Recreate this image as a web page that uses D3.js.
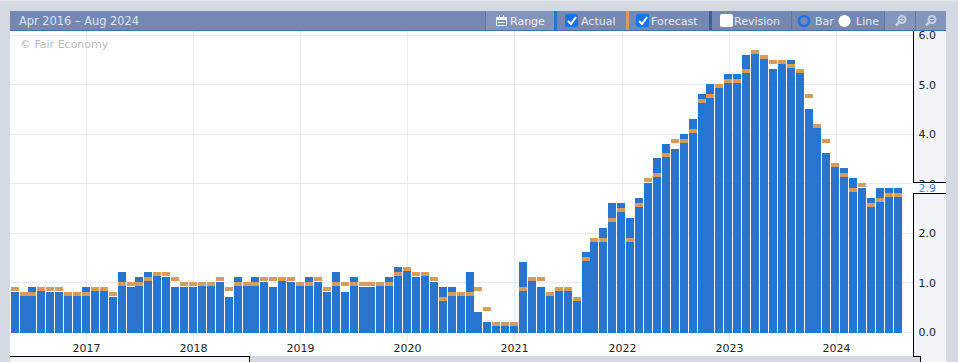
<!DOCTYPE html>
<html>
<head>
<meta charset="utf-8">
<style>
  html, body { margin: 0; padding: 0; background: #d5d9e2; overflow: hidden; }
  svg { display: block; font-family: "DejaVu Sans", sans-serif; }
</style>
</head>
<body>
<div id="chart"></div>
<script src="https://cdn.jsdelivr.net/npm/d3@7"></script>
<script>
// Monthly bars, May 2016 to Aug 2024
const firstMonth = new Date(2016, 4, 1);
const lastMonth  = new Date(2024, 7, 1);
const months = d3.timeMonth.range(firstMonth, d3.timeMonth.offset(lastMonth, 1));

const actual = [
  0.8, 0.8, 0.9, 0.9, 0.8, 0.8, 0.8, 0.8, 0.9, 0.9, 0.9, 0.7, 1.2, 0.9, 1.1, 1.2, 1.2, 1.1, 0.9, 0.9,
  0.9, 1.0, 1.0, 1.0, 0.7, 1.1, 1.0, 1.1, 1.0, 0.9, 1.1, 1.0, 1.0, 1.1, 1.0, 0.8, 1.2, 0.8, 1.1, 0.9,
  0.9, 1.0, 1.1, 1.3, 1.3, 1.1, 1.2, 1.0, 0.9, 0.9, 0.8, 1.2, 0.4, 0.2, 0.2, 0.2, 0.2, 1.4, 1.1, 0.9,
  0.8, 0.9, 0.9, 0.7, 1.6, 1.9, 2.1, 2.6, 2.6, 2.3, 2.7, 3.0, 3.5, 3.8, 3.7, 4.0, 4.3, 4.8, 5.0, 5.0,
  5.2, 5.2, 5.6, 5.7, 5.6, 5.3, 5.4, 5.5, 5.3, 4.5, 4.2, 3.6, 3.4, 3.3, 3.1, 2.9, 2.7, 2.9, 2.9, 2.9
];
const forecast = [
  0.9, 0.8, 0.8, 0.9, 0.9, 0.9, 0.8, 0.8, 0.8, 0.9, 0.9, 0.8, 1.0, 1.0, 1.0, 1.1, 1.2, 1.2, 1.1, 1.0,
  1.0, 1.0, 1.0, 1.1, 0.9, 1.0, 1.0, 1.0, 1.1, 1.1, 1.1, 1.1, 1.0, 1.0, 1.1, 0.9, 1.0, 1.0, 1.0, 1.0,
  1.0, 1.0, 1.0, 1.2, 1.3, 1.2, 1.2, 1.1, 0.7, 0.8, 0.8, 0.8, 0.9, 0.5, 0.2, 0.2, 0.2, 0.9, 1.1, 1.1,
  0.8, 0.9, 0.9, 0.7, 1.5, 1.9, 1.9, 2.3, 2.5, 1.9, 2.6, 3.1, 3.2, 3.6, 3.9, 3.9, 4.1, 4.7, 4.8, 5.0,
  5.1, 5.1, 5.3, 5.7, 5.6, 5.5, 5.5, 5.4, 5.3, 4.8, 4.2, 3.9, 3.4, 3.2, 2.9, 3.0, 2.6, 2.7, 2.8, 2.8
];
const yTicks = [0, 1, 2, 3, 4, 5, 6];
const yearTicks = [2017, 2018, 2019, 2020, 2021, 2022, 2023, 2024];
const rangeTitle = "Apr 2016 – Aug 2024";

const COLORS = { actual: "#2875d0", forecast: "#d59c5f", grid: "#e8e8f1", head: "#7389b4", page: "#d5d9e2", panel: "#f3f4f9" };

const W = 958, H = 362;
// plot box, the axis panel sits to the right of it
const plot = { left: 10, right: 913, top: 31, bottom: 356 };

const svg = d3.select("#chart").append("svg").attr("width", W).attr("height", H);

svg.append("rect").attr("width", W).attr("height", H).attr("fill", COLORS.page);
svg.append("rect").attr("width", W).attr("height", 1).attr("fill", "#e6e8ed");
svg.append("rect").attr("x", plot.left).attr("y", plot.top)
  .attr("width", plot.right - plot.left).attr("height", plot.bottom - plot.top).attr("fill", "#fff");
svg.append("rect").attr("x", plot.right).attr("y", plot.top)
  .attr("width", 33).attr("height", plot.bottom - plot.top).attr("fill", COLORS.panel);

// Scales
const x = d3.scaleBand().domain(months).range([10.6, 901.8]).paddingInner(0.1).paddingOuter(0);
const y = d3.scaleLinear().domain([0, 6]).range([332, 35.3]);
const barW = 8, markH = 4;
const barX = d => Math.round(x(d));
const yearX = yr => Math.round(x(new Date(yr, 0, 1)) + x.bandwidth() / 2 + 0.3) + 0.5;

// Gridlines
svg.append("g").selectAll("line").data(yTicks).join("line")
  .attr("x1", plot.left).attr("x2", plot.right)
  .attr("y1", d => Math.floor(y(d)) + 0.5).attr("y2", d => Math.floor(y(d)) + 0.5)
  .attr("stroke", COLORS.grid);
svg.append("g").selectAll("line").data(yearTicks).join("line")
  .attr("x1", yearX).attr("x2", yearX)
  .attr("y1", plot.top).attr("y2", 342)
  .attr("stroke", COLORS.grid);

svg.append("text").attr("x", 20).attr("y", 48)
  .attr("font-size", 11).attr("fill", "#bbb").text("© Fair Economy");

// Actual bars
svg.append("g").selectAll("rect").data(months).join("rect")
  .attr("x", barX).attr("width", barW)
  .attr("y", (d, i) => Math.floor(y(actual[i])))
  .attr("height", (d, i) => 333 - Math.floor(y(actual[i])))
  .attr("fill", COLORS.actual);

// Forecast dashes, top edge sits on the value
svg.append("g").selectAll("rect").data(months).join("rect")
  .attr("x", barX).attr("width", barW)
  .attr("y", (d, i) => Math.floor(y(forecast[i])))
  .attr("height", markH)
  .attr("fill", COLORS.forecast);

// X axis, years only (d3 adds its own half pixel)
const xAxis = d3.axisBottom(d3.scaleLinear().domain([0, W]).range([0, W]))
  .tickValues(yearTicks.map(yr => yearX(yr) - 0.5)).tickSize(0)
  .tickFormat((d, i) => yearTicks[i]);
svg.append("g").attr("transform", "translate(0,344)").call(xAxis)
  .call(g => g.select(".domain").remove())
  .call(g => g.selectAll("text").attr("y", 0).attr("dy", "0.71em")
    .attr("font-size", 11).attr("font-family", "'DejaVu Sans'").attr("fill", "#222"));

// Y axis in the right panel
const yAxis = d3.axisRight(y).tickValues(yTicks).tickSize(0).tickFormat(d3.format(".1f"));
svg.append("g").attr("transform", `translate(${plot.right},0)`).call(yAxis)
  .call(g => g.select(".domain").remove())
  .call(g => g.selectAll("text").attr("x", 5.5)
    .attr("font-size", 11).attr("font-family", "'DejaVu Sans'").attr("fill", "#222"));

// Axis panel outline
const black = "#000";
const lineSeg = (x1, y1, x2, y2) => svg.append("line")
  .attr("x1", x1).attr("y1", y1).attr("x2", x2).attr("y2", y2)
  .attr("stroke", black);
lineSeg(913.5, plot.top, 913.5, 356.5);
lineSeg(913, 356.5, 921, 356.5);
lineSeg(920.5, 356, 920.5, H);

// Bottom left tab and the grey strip under the plot
svg.append("rect").attr("x", 10).attr("y", 357).attr("width", 239).attr("height", 5).attr("fill", COLORS.panel);
svg.append("rect").attr("x", 921).attr("y", 356).attr("width", 25).attr("height", 6).attr("fill", COLORS.panel);
lineSeg(10, 356.5, 250, 356.5);
lineSeg(249.5, 356, 249.5, H);

// Current value flag
const lastVal = actual[actual.length - 1];
const flagY = Math.floor(y(lastVal));
svg.append("rect").attr("x", plot.right).attr("y", flagY - 6).attr("width", 33).attr("height", 12).attr("fill", "#fff");
lineSeg(913, flagY - 5.5, 946, flagY - 5.5);
lineSeg(913, flagY + 5.5, 946, flagY + 5.5);
svg.append("text").attr("x", 918.5).attr("y", flagY).attr("dy", "0.36em")
  .attr("font-size", 11).attr("fill", "#4a8ad8").text(d3.format(".1f")(lastVal));

// Toolbar
const bar = svg.append("g");
bar.append("rect").attr("x", 10).attr("y", 11).attr("width", 936).attr("height", 19).attr("fill", COLORS.head);
bar.append("rect").attr("x", 10).attr("y", 30).attr("width", 936).attr("height", 1).attr("fill", "#4a6fb0");
bar.append("text").attr("x", 19).attr("y", 25).attr("font-size", 11.4).attr("fill", "#dde2ee").text(rangeTitle);

// lighter button backgrounds
[[486, 68], [885, 30], [916, 30]].forEach(([bx, bw]) => {
  bar.append("rect").attr("x", bx).attr("y", 11).attr("width", bw).attr("height", 19).attr("fill", "#8295bd");
});
[[485, "#5f77a6"], [791, "#5f77a6"], [884, "#5f77a6"], [915, "#5f77a6"]].forEach(([sx, c]) => {
  bar.append("rect").attr("x", sx).attr("y", 11).attr("width", 1).attr("height", 19).attr("fill", c);
});
// series colour stripes
[[554, COLORS.actual], [626, COLORS.forecast], [709, "#3f5f9c"]].forEach(([sx, c]) => {
  bar.append("rect").attr("x", sx).attr("y", 11).attr("width", 3).attr("height", 19).attr("fill", c);
});

const label = (tx, str, fill) => bar.append("text").attr("x", tx).attr("y", 25)
  .attr("font-size", 11).attr("fill", fill || "#e3e7f0").text(str);
label(510, "Range", "#eef1f7");
label(581, "Actual");
label(651, "Forecast");
label(734, "Revision");
label(815, "Bar");
label(856, "Line");

// checkboxes
[[565, true], [636, true], [720, false]].forEach(([cx, on]) => {
  bar.append("rect").attr("x", cx).attr("y", 14).attr("width", 13).attr("height", 13).attr("rx", 2)
    .attr("fill", on ? "#1a73e8" : "#fff");
  if (on) bar.append("path").attr("d", `M${cx + 3},${21} l3,3 l5,-7`)
    .attr("fill", "none").attr("stroke", "#fff").attr("stroke-width", 2);
});
// radios
bar.append("circle").attr("cx", 804).attr("cy", 21).attr("r", 5).attr("fill", COLORS.head)
  .attr("stroke", "#1a73e8").attr("stroke-width", 2.5);
bar.append("circle").attr("cx", 844.5).attr("cy", 21).attr("r", 6).attr("fill", "#fff");

// calendar icon on Range
bar.append("rect").attr("x", 496.5).attr("y", 17.5).attr("width", 10).attr("height", 8)
  .attr("fill", "none").attr("stroke", "#eef1f7");
bar.append("rect").attr("x", 496).attr("y", 17).attr("width", 11).attr("height", 3).attr("fill", "#eef1f7");
bar.append("path").attr("d", "M499.5,15v3M503.5,15v3M498,22.5h7").attr("stroke", "#eef1f7").attr("fill", "none");

// magnifier icons
[[901, true], [931, false]].forEach(([mx, plus]) => {
  bar.append("circle").attr("cx", mx + 1).attr("cy", 19.5).attr("r", 3.5)
    .attr("fill", "none").attr("stroke", "#c5cfe2").attr("stroke-width", 2);
  bar.append("path").attr("d", `M${mx - 2},${22.5} l-3,3`).attr("stroke", "#c5cfe2").attr("stroke-width", 2.5);
  bar.append("path").attr("d", plus ? `M${mx - 1},19.5h4M${mx + 1},17.5v4` : `M${mx - 1},19.5h4`)
    .attr("stroke", "#c5cfe2");
});
</script>
</body>
</html>
